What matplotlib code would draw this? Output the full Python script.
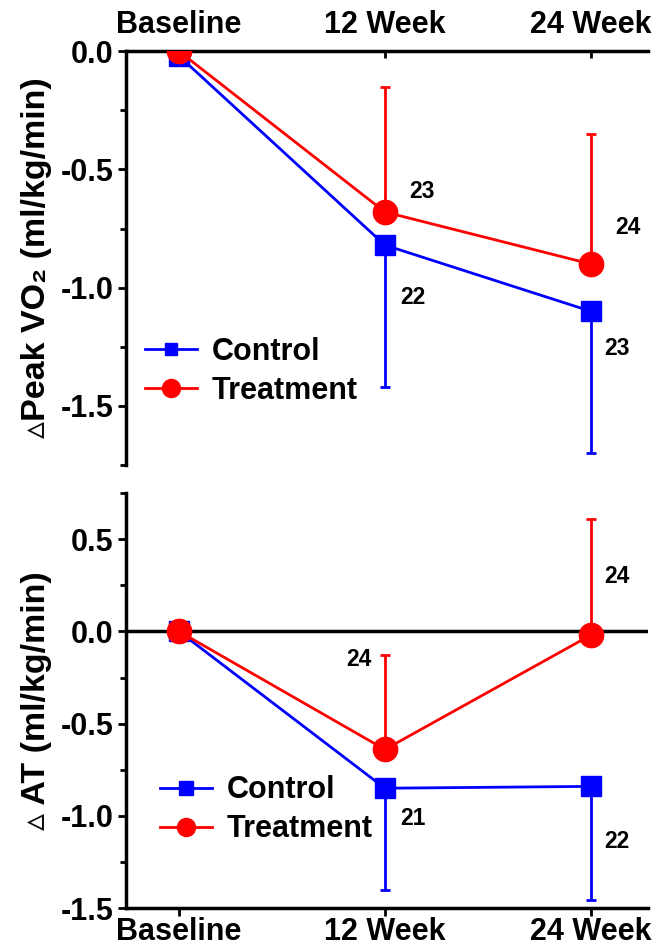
import matplotlib
matplotlib.use('Agg')
import matplotlib.pyplot as plt
from matplotlib.lines import Line2D
from matplotlib.ticker import MultipleLocator

plt.rcParams['font.family'] = ['Liberation Sans', 'DejaVu Sans']
plt.rcParams['font.weight'] = 'bold'
plt.rcParams['axes.labelweight'] = 'bold'

# data
visitas = ['Baseline', '12 Week', '24 Week']
x = [0, 1, 2]

vo2_ctrl = [-0.02, -0.82, -1.10]
vo2_ctrl_err = [0.0, 0.60, 0.60]
vo2_trt = [0.0, -0.68, -0.90]
vo2_trt_err = [0.0, 0.53, 0.55]
vo2_n_ctrl = ['', '22', '23']
vo2_n_trt = ['', '23', '24']

at_ctrl = [0.0, -0.85, -0.84]
at_ctrl_err = [0.0, 0.55, 0.615]
at_trt = [0.0, -0.64, -0.02]
at_trt_err = [0.0, 0.51, 0.63]
at_n_ctrl = ['', '21', '22']
at_n_trt = ['', '24', '24']

AZUL = '#0000ff'
VERM = '#ff0000'
FS = 22

fig = plt.figure(figsize=(6.7, 9.48), dpi=100)
ax1 = fig.add_axes([0.188, 0.5095, 0.779, 0.4365])
ax2 = fig.add_axes([0.188, 0.042, 0.779, 0.438])


def desenha(ax, ctrl, ctrl_err, trt, trt_err):
    ax.errorbar(x, ctrl, yerr=[ctrl_err, [0, 0, 0]], color=AZUL, lw=2,
                marker='s', ms=14.5, capsize=3.5, capthick=2, elinewidth=2, zorder=3)
    ax.errorbar(x, trt, yerr=[[0, 0, 0], trt_err], color=VERM, lw=2,
                marker='o', ms=17.5, capsize=3.5, capthick=2, elinewidth=2, zorder=4)


def legenda(ax, bbox, ms_sq):
    h = [Line2D([], [], color=AZUL, lw=2, marker='s', ms=ms_sq),
         Line2D([], [], color=VERM, lw=2, marker='o', ms=13)]
    ax.legend(h, ['Control', 'Treatment'], loc='upper left', bbox_to_anchor=bbox,
              frameon=False, fontsize=FS, handlelength=1.7, handletextpad=0.5,
              labelspacing=0.3, borderpad=0, borderaxespad=0)


def rotulos(ax, ys, ns, dx, dy):
    for i in range(3):
        if ns[i]:
            ax.annotate(ns[i], (x[i], ys[i]), xytext=(dx[i], dy[i]),
                        textcoords='offset points', fontsize=16.5, fontweight='bold',
                        ha='center', va='center')


# painel superior
desenha(ax1, vo2_ctrl, vo2_ctrl_err, vo2_trt, vo2_trt_err)
ax1.set_xlim(-0.257, 2.277)
ax1.set_ylim(-1.75, 0)
ax1.spines['bottom'].set_visible(False)
ax1.spines['right'].set_visible(False)
ax1.xaxis.tick_top()
ax1.set_xticks(x)
ax1.set_xticklabels(visitas)
ax1.tick_params(axis='x', direction='in', length=5, width=2, pad=8, labelsize=FS)
ax1.yaxis.set_minor_locator(MultipleLocator(0.25))
ax1.tick_params(axis='y', which='major', direction='out', length=6, width=2, labelsize=FS, pad=3)
ax1.tick_params(axis='y', which='minor', direction='out', length=4, width=2)
ax1.set_yticks([0, -0.5, -1.0, -1.5])
ax1.set_yticklabels(['0.0', '-0.5', '-1.0', '-1.5'])
ax1.set_ylabel('\u25b5Peak VO\u2082 (ml/kg/min)', fontsize=24.5, labelpad=6)
for s in ['top', 'left']:
    ax1.spines[s].set_linewidth(2.5)
rotulos(ax1, vo2_trt, vo2_n_trt, [0, 27, 27], [0, 15, 26])
rotulos(ax1, vo2_ctrl, vo2_n_ctrl, [0, 20, 19], [0, -38, -27])
legenda(ax1, (0.036, 0.31), 8.5)

# painel inferior
desenha(ax2, at_ctrl, at_ctrl_err, at_trt, at_trt_err)
ax2.axhline(0, color='black', lw=2.5, zorder=2)
ax2.set_xlim(-0.257, 2.277)
ax2.set_ylim(-1.5, 0.75)
ax2.spines['top'].set_visible(False)
ax2.spines['right'].set_visible(False)
ax2.set_xticks(x)
ax2.set_xticklabels(visitas)
ax2.tick_params(axis='x', direction='out', length=6, width=2, pad=0.5, labelsize=FS)
ax2.yaxis.set_minor_locator(MultipleLocator(0.25))
ax2.set_yticks([0.5, 0, -0.5, -1.0, -1.5])
ax2.set_yticklabels(['0.5', '0.0', '-0.5', '-1.0', '-1.5'])
ax2.tick_params(axis='y', which='major', direction='out', length=6, width=2, labelsize=FS, pad=3)
ax2.tick_params(axis='y', which='minor', direction='out', length=4, width=2)
ax2.set_ylabel('\u25b5 AT (ml/kg/min)', fontsize=24.5, labelpad=6)
for s in ['bottom', 'left']:
    ax2.spines[s].set_linewidth(2.5)
rotulos(ax2, at_trt, at_n_trt, [0, -19, 19], [0, 65, 42])
rotulos(ax2, at_ctrl, at_n_ctrl, [0, 20, 19], [0, -22, -40])
legenda(ax2, (0.065, 0.32), 9.5)

fig.savefig('out.png', dpi=100)
